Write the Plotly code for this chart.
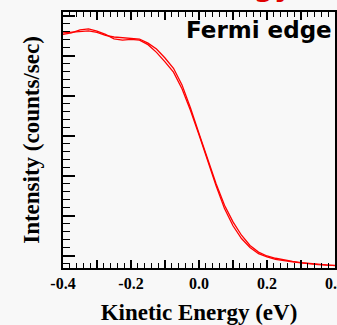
import plotly.graph_objects as go

# Kinetic energy (eV)
energy = [-0.400, -0.375, -0.350, -0.325, -0.300, -0.275, -0.250, -0.225, -0.200,
          -0.175, -0.150, -0.125, -0.100, -0.075, -0.050, -0.025, 0.000, 0.025,
          0.050, 0.075, 0.100, 0.125, 0.150, 0.175, 0.200, 0.225, 0.250, 0.275,
          0.300, 0.325, 0.350, 0.375, 0.400]

# Intensity (counts/sec), two sweeps
scan_up = [6577, 6596, 6615, 6628, 6589, 6512, 6474, 6455, 6448, 6423, 6320, 6172,
           5948, 5691, 5274, 4697, 4055, 3413, 2804, 2259, 1842, 1508, 1251, 1085,
           988, 931, 886, 853, 821, 802, 783, 764, 744]
scan_down = [6538, 6577, 6654, 6679, 6622, 6538, 6429, 6397, 6416, 6397, 6282, 6089,
             5852, 5595, 5178, 4633, 4023, 3369, 2753, 2175, 1745, 1425, 1200, 1046,
             963, 905, 866, 841, 815, 789, 770, 757, 751]

x_tickvals = [-0.4, -0.3, -0.2, -0.1, 0.0, 0.1, 0.2, 0.3, 0.4]
x_ticktext = ["-0.4", "", "-0.2", "", "0.0", "", "0.2", "", "0.4"]

BG = "#f8f8f8"
serif = "Liberation Serif"

fig = go.Figure()
for ys in (scan_up, scan_down):
    fig.add_trace(go.Scatter(x=energy, y=ys, mode="lines",
                             line=dict(color="#ff0000", width=1.3),
                             showlegend=False, hoverinfo="skip"))

fig.update_layout(
    width=337, height=325,
    margin=dict(l=63, r=2, t=12, b=57),
    paper_bgcolor=BG, plot_bgcolor=BG,
    xaxis=dict(
        range=[-0.4, 0.4], tickmode="array", tickvals=x_tickvals, ticktext=x_ticktext,
        ticks="inside", ticklen=8, tickwidth=1.5, tickcolor="black",
        showline=True, linecolor="black", linewidth=2, mirror="ticks",
        showgrid=False, zeroline=False, ticklabeloverflow="allow", automargin=False,
        tickfont=dict(family=serif, size=16, color="black", weight="bold"),
        minor=dict(tickmode="linear", tick0=-0.4, dtick=0.02, ticks="inside",
                   ticklen=5, tickwidth=1.2, tickcolor="black", showgrid=False),
        title=dict(text="Kinetic Energy (eV)",
                   font=dict(family=serif, size=23, color="black", weight="bold")),
    ),
    yaxis=dict(
        range=[687, 7100], tickmode="linear", tick0=1000, dtick=1000,
        ticks="inside", ticklen=12, tickwidth=1.5, tickcolor="black",
        showticklabels=False, automargin=False,
        showline=True, linecolor="black", linewidth=2, mirror=True,
        showgrid=False, zeroline=False,
        minor=dict(tickmode="linear", tick0=0, dtick=200, ticks="inside",
                   ticklen=7, tickwidth=1.2, tickcolor="black", showgrid=False),
        title=dict(text="Intensity (counts/sec)",
                   font=dict(family=serif, size=23, color="black", weight="bold")),
    ),
    annotations=[
        dict(text="Fermi edge", xref="paper", yref="paper", x=0.998, y=0.93,
             xanchor="right", yanchor="middle", showarrow=False,
             font=dict(family="DejaVu Sans", size=23, color="black", weight="bold")),
        dict(text="Energy", xref="paper", yref="paper", x=0.85, y=1.028,
             xanchor="right", yanchor="bottom", showarrow=False,
             font=dict(family="DejaVu Sans", size=28, color="#e00000", weight="bold")),
    ],
)

fig.write_html("out.html")
